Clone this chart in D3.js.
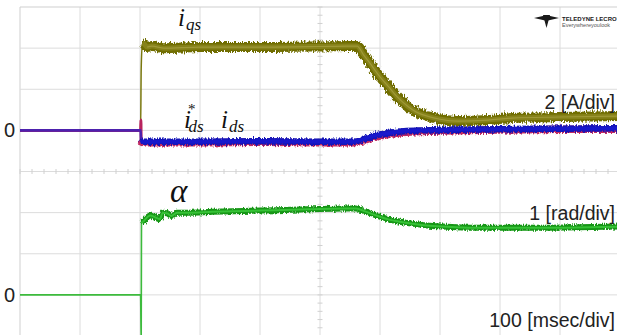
<!DOCTYPE html>
<html><head><meta charset="utf-8">
<script src="https://cdn.jsdelivr.net/npm/d3@7"></script>
<style>html,body{margin:0;padding:0;background:#fff;overflow:hidden}</style>
</head><body>
<svg id="chart" width="617" height="335"></svg>
<script>
// ---- data (time in msec, 100 msec/div) ----
const timeDivs = [0, 100, 200, 300, 400, 500, 600, 700, 800, 900, 1000];
const alphaDivs = [-1, 0, 1, 2, 3, 4, 5, 6, 7];

// i_qs [A]
const iqsT = [0, 201, 202, 204, 207, 212, 220, 240, 300, 400, 500, 545, 562, 572, 585, 600, 615, 628, 645, 660, 680, 700, 730, 780, 820, 900, 1000];
const iqsV = [0, 0, 3.0, 4.25, 4.2, 4.05, 4.1, 4.0, 4.05, 4.05, 4.08, 4.1, 4.1, 3.7, 3.2, 2.6, 2.1, 1.65, 1.2, 0.9, 0.68, 0.54, 0.45, 0.5, 0.6, 0.65, 0.7];

// i_ds [A]
const idsT = [0, 201, 202, 204, 210, 300, 400, 500, 555, 570, 585, 600, 620, 640, 670, 720, 800, 900, 1000];
const idsV = [0, 0, -0.6, -0.55, -0.55, -0.55, -0.53, -0.55, -0.55, -0.45, -0.3, -0.2, -0.1, -0.04, 0, 0.03, 0.06, 0.08, 0.1];

// i_ds* [A]
const idsRefT = [0, 201, 201.5, 202, 204, 210, 300, 400, 500, 555, 570, 585, 600, 620, 640, 670, 720, 800, 900, 1000];
const idsRefV = [0, 0, 0.5, -0.7, -0.6, -0.6, -0.6, -0.58, -0.6, -0.6, -0.52, -0.38, -0.28, -0.17, -0.1, -0.05, -0.02, 0.02, 0.05, 0.06];

// alpha [rad]
const alphaT = [0, 201, 202, 202.5, 205, 217, 226, 233, 238, 246, 252, 262, 280, 320, 400, 480, 540, 560, 575, 590, 600, 615, 633, 660, 683, 720, 760, 850, 1000];
const alphaV = [0, 0, -1.2, 1.75, 1.78, 1.93, 1.88, 1.84, 2.0, 1.98, 1.92, 2.0, 2.0, 2.02, 2.05, 2.08, 2.1, 2.1, 2.03, 1.95, 1.9, 1.83, 1.78, 1.72, 1.68, 1.65, 1.63, 1.63, 1.66];

const bandStartMs = 202;

// ---- scales ----
const svg = d3.select("#chart");
const x = d3.scaleLinear().domain([0, 1000]).range([20, 620]);
const yI = d3.scaleLinear().domain([-10, 6]).range([336, 7]);   // 2 A/div, zero on 3rd line
const yA = d3.scaleLinear().domain([-1, 7]).range([336, 7]);    // 1 rad/div, zero on 7th line

// ---- noise filter for persistence bands ----
const defs = svg.append("defs");
function noiseFilter(id, scale, seed) {
  const f = defs.append("filter").attr("id", id).attr("filterUnits", "userSpaceOnUse")
    .attr("x", 0).attr("y", 0).attr("width", 617).attr("height", 335);
  f.append("feTurbulence").attr("type", "fractalNoise").attr("baseFrequency", "0.9 0.25")
    .attr("numOctaves", 2).attr("seed", seed).attr("result", "t");
  f.append("feDisplacementMap").attr("in", "SourceGraphic").attr("in2", "t").attr("scale", scale)
    .attr("xChannelSelector", "R").attr("yChannelSelector", "G");
}
noiseFilter("noise", 5, 4);
noiseFilter("noise2", 7, 9);

// ---- grid ----
const grid = svg.append("g");
grid.selectAll("line.v").data(timeDivs).join("line")
  .attr("x1", d => x(d)).attr("x2", d => x(d)).attr("y1", 7).attr("y2", 336)
  .attr("stroke", d => d === 0 ? "#cfcfcf" : "#dcdcdc").attr("stroke-width", 1);
grid.selectAll("line.h").data(alphaDivs).join("line")
  .attr("x1", 20).attr("x2", 620).attr("y1", d => yA(d)).attr("y2", d => yA(d))
  .attr("stroke", d => d === 7 ? "#cfcfcf" : "#dcdcdc").attr("stroke-width", 1);
// center-line minor ticks
const cx = x(500), cy = yA(3);
const minorX = d3.range(0, 1001, 20).map(x);
const minorY = d3.range(-1, 7.01, 0.2).map(yA);
grid.selectAll("line.mx").data(minorX).join("line")
  .attr("x1", d => d).attr("x2", d => d).attr("y1", cy - 2.5).attr("y2", cy + 2.5)
  .attr("stroke", "#d0d0d0");
grid.selectAll("line.my").data(minorY).join("line")
  .attr("x1", cx - 2.5).attr("x2", cx + 2.5).attr("y1", d => d).attr("y2", d => d)
  .attr("stroke", "#d0d0d0");

// ---- traces ----
const zip = (T, V) => T.map((t, i) => [t, V[i]]);
const iqs = zip(iqsT, iqsV), ids = zip(idsT, idsV), idsRef = zip(idsRefT, idsRefV), alpha = zip(alphaT, alphaV);
const lineI = d3.line().x(d => x(d[0])).y(d => yI(d[1])).curve(d3.curveMonotoneX);
const lineA = d3.line().x(d => x(d[0])).y(d => yA(d[1])).curve(d3.curveMonotoneX);
const post = (arr, t0) => arr.filter(d => d[0] >= t0);

const tr = svg.append("g").attr("fill", "none").attr("stroke-linejoin", "round");

// alpha (green)
tr.append("path").attr("d", lineA(alpha)).attr("stroke", "#3dbb3d").attr("stroke-width", 1.6);
tr.append("path").attr("d", lineA(post(alpha, bandStartMs + 0.5))).attr("stroke", "#169616")
  .attr("stroke-width", 6).attr("filter", "url(#noise)");
tr.append("path").attr("d", lineA(post(alpha, bandStartMs + 0.5))).attr("stroke", "#36c236")
  .attr("stroke-width", 2);

// i_qs (olive)
tr.append("path").attr("d", lineI(iqs)).attr("stroke", "#7a780e").attr("stroke-width", 1.5);
tr.append("path").attr("d", lineI(post(iqs, bandStartMs + 2))).attr("stroke", "#6f6d05")
  .attr("stroke-width", 10).attr("filter", "url(#noise2)");
tr.append("path").attr("d", lineI(post(iqs, bandStartMs + 2))).attr("stroke", "#86821a")
  .attr("stroke-width", 5);
tr.append("path").attr("d", lineI(post(iqs, bandStartMs + 8))).attr("stroke", "#b0a84a")
  .attr("stroke-width", 1.2).attr("opacity", 0.6);

// i_ds* (red) and i_ds (blue)
tr.append("path").attr("d", lineI(idsRef)).attr("stroke", "#b8245e").attr("stroke-width", 3);
tr.append("path").attr("d", lineI(post(idsRef, bandStartMs))).attr("stroke", "#c02a62")
  .attr("stroke-width", 7.5).attr("filter", "url(#noise)");
tr.append("path").attr("d", lineI(ids)).attr("stroke", "#2a20c8").attr("stroke-width", 2.6).attr("opacity", 0.75);
tr.append("path").attr("d", lineI(post(ids, bandStartMs))).attr("stroke", "#1212b8")
  .attr("stroke-width", 6.5).attr("filter", "url(#noise)");
tr.append("path").attr("d", lineI(post(ids, bandStartMs))).attr("stroke", "#1818cc")
  .attr("stroke-width", 3.5);

// ---- text ----
const serif = "'Liberation Serif', 'DejaVu Serif', serif";
const sans = "'Liberation Sans', Arial, sans-serif";
const T = svg.append("g").attr("fill", "#111");
function sym(xp, yb, sub, star) {
  const t = T.append("text").attr("x", xp).attr("y", yb).attr("font-family", serif)
    .attr("font-style", "italic").attr("font-size", 25);
  t.append("tspan").text("i");
  if (star) {
    t.append("tspan").attr("dx", -3).attr("dy", -14).attr("font-size", 15).attr("font-style", "normal").text("*");
    t.append("tspan").attr("dx", -7).attr("dy", 18).attr("font-size", 17).text(sub);
  } else {
    t.append("tspan").attr("dx", 1).attr("dy", 4).attr("font-size", 17).text(sub);
  }
}
sym(178, 26, "qs", false);
sym(184, 128, "ds", true);
sym(221, 128, "ds", false);
T.append("text").attr("x", 170).attr("y", 202).attr("font-family", serif).attr("font-style", "italic")
  .attr("font-size", 33).text("α");

T.append("text").attr("x", 4).attr("y", yI(0) + 7).attr("font-family", sans).attr("font-size", 20)
  .attr("fill", "#222").text("0");
T.append("text").attr("x", 4).attr("y", yA(0) + 7).attr("font-family", sans).attr("font-size", 20)
  .attr("fill", "#222").text("0");

const scaleLabels = ["2 [A/div]", "1 [rad/div]", "100 [msec/div]"];
const labelY = [109, 220, 327];
T.selectAll("text.sc").data(scaleLabels).join("text")
  .attr("x", 615).attr("y", (d, i) => labelY[i]).attr("text-anchor", "end")
  .attr("font-family", sans).attr("font-size", 19.5).attr("fill", "#222").text(d => d);

// ---- logo ----
const logo = svg.append("g").attr("fill", "#1a1a1a");
logo.append("polygon").attr("points", "534,18 545,15.5 545,20.5");
logo.append("polygon").attr("points", "559,18 548,15.5 548,20.5");
logo.append("polygon").attr("points", "543,15 550,15 546.5,28");
logo.append("text").attr("x", 562).attr("y", 20.5).attr("font-family", sans).attr("font-weight", "bold")
  .attr("font-size", 6).text("TELEDYNE LECROY");
logo.append("text").attr("x", 562).attr("y", 27).attr("font-family", sans)
  .attr("font-size", 5.5).attr("fill", "#555").text("Everywhereyoulook");
</script>
</body></html>
